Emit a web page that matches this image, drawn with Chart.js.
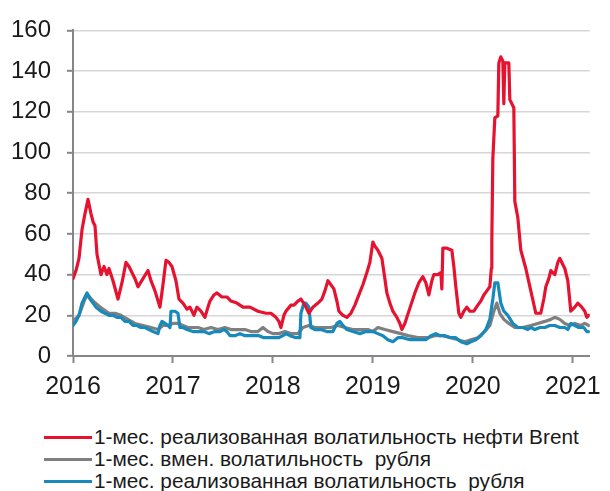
<!DOCTYPE html>
<html>
<head>
<meta charset="utf-8">
<script src="https://cdn.jsdelivr.net/npm/chart.js@4/dist/chart.umd.min.js"></script>
<style>
html,body{margin:0;padding:0;background:#fff;}
#wrap{position:relative;width:610px;height:491px;overflow:hidden;}
#c{position:absolute;left:0;top:0;}
.leg{position:absolute;left:44px;height:22px;line-height:22px;font-family:"Liberation Sans",Arial,sans-serif;font-size:20.8px;color:#1a1a1a;white-space:pre;display:flex;align-items:center;}
.leg .l{display:inline-block;width:48px;height:3px;margin-right:2px;}
</style>
</head>
<body>
<div id="wrap">
<canvas id="c" width="610" height="400" style="width:610px;height:400px"></canvas>
<div id="legend"></div>
</div>
<script>
// tick labels
const yearTicks = [2016, 2017, 2018, 2019, 2020, 2021];
const valueTicks = [0, 20, 40, 60, 80, 100, 120, 140, 160];

// series names
const seriesNames = [
  "1-мес. реализованная волатильность нефти Brent",
  "1-мес. вмен. волатильность  рубля",
  "1-мес. реализованная волатильность  рубля"
];

// 1-month realized volatility of Brent (time in years, value in %)
const brentT = [2016.00,2016.03,2016.06,2016.09,2016.12,2016.15,2016.18,2016.20,2016.22,2016.24,2016.28,2016.31,2016.34,2016.36,2016.40,2016.45,2016.49,2016.53,2016.56,2016.58,2016.62,2016.65,2016.70,2016.75,2016.78,2016.82,2016.87,2016.90,2016.93,2016.96,2016.99,2017.03,2017.06,2017.10,2017.14,2017.17,2017.21,2017.24,2017.28,2017.32,2017.35,2017.37,2017.41,2017.44,2017.49,2017.54,2017.58,2017.64,2017.70,2017.77,2017.85,2017.93,2017.98,2018.03,2018.06,2018.08,2018.11,2018.13,2018.18,2018.21,2018.25,2018.28,2018.32,2018.36,2018.40,2018.45,2018.49,2018.52,2018.55,2018.58,2018.61,2018.64,2018.66,2018.70,2018.74,2018.78,2018.82,2018.86,2018.90,2018.94,2018.97,2019.00,2019.02,2019.05,2019.09,2019.12,2019.14,2019.17,2019.20,2019.24,2019.27,2019.29,2019.32,2019.34,2019.38,2019.42,2019.46,2019.50,2019.53,2019.56,2019.59,2019.61,2019.65,2019.68,2019.69,2019.70,2019.74,2019.79,2019.81,2019.83,2019.86,2019.88,2019.91,2019.94,2019.97,2020.01,2020.05,2020.08,2020.11,2020.14,2020.17,2020.185,2020.19,2020.20,2020.22,2020.25,2020.26,2020.28,2020.30,2020.31,2020.32,2020.36,2020.37,2020.41,2020.42,2020.45,2020.48,2020.53,2020.58,2020.63,2020.68,2020.71,2020.73,2020.76,2020.78,2020.82,2020.85,2020.87,2020.90,2020.92,2020.95,2020.98,2021.02,2021.05,2021.09,2021.12,2021.14,2021.16];
const brentV = [38,42,48,62,70,77,70,66,64,50,40,44,40,43,37,28,36,46,44,42,38,34,38,42,37,32,24,35,47,46,44,37,28,26,23,24,20,24,22,19,24,27,30,31,29,29,27,26,24,24,22,21,21,19,17,14,20,22,25,25,27,28,25,21,24,26,28,32,37,35,33,27,22,20,19,21,25,30,35,41,46,56,54,52,48,38,31,26,22,19,16,13,16,19,25,31,36,39,36,30,37,40,40,41,33,53,53,52,44,34,21,19,22,24,22,22,25,27,30,32,34,43,57,97,117,118,144,147,145,124,144,144,126,122,76,68,52,43,32,21,21,28,34,38,42,40,46,48,45,43,37,22,24,26,24,22,19,20];

// 1-month implied volatility of the ruble
const rubImpT = [2016.00,2016.06,2016.12,2016.15,2016.20,2016.25,2016.30,2016.36,2016.42,2016.48,2016.55,2016.62,2016.70,2016.78,2016.85,2016.90,2016.95,2017.00,2017.05,2017.10,2017.15,2017.25,2017.31,2017.38,2017.45,2017.52,2017.58,2017.65,2017.72,2017.78,2017.85,2017.90,2017.95,2018.00,2018.06,2018.12,2018.18,2018.25,2018.30,2018.36,2018.42,2018.50,2018.58,2018.65,2018.72,2018.80,2018.88,2018.95,2019.00,2019.05,2019.12,2019.20,2019.28,2019.35,2019.45,2019.55,2019.62,2019.70,2019.78,2019.85,2019.92,2019.98,2020.05,2020.12,2020.17,2020.21,2020.24,2020.27,2020.31,2020.36,2020.42,2020.50,2020.58,2020.65,2020.72,2020.78,2020.82,2020.87,2020.92,2020.97,2021.02,2021.08,2021.12,2021.16];
const rubImpV = [17,20,28,30,27,25,23,21,21,20,18,16,15,14,13,15,15,16,16,15,14,14,13,14,13,14,13,13,13,12,12,14,12,11,11,12,11,11,14,15,14,14,14,15,14,13,13,13,12,14,13,12,11,10,9,9,10,10,9,8,7,8,9,12,15,22,26,21,18,16,14,14,15,16,17,18,19,18,16,15,16,15,16,15];

// 1-month realized volatility of the ruble
const rubRealT = [2016.00,2016.03,2016.06,2016.09,2016.12,2016.14,2016.17,2016.20,2016.23,2016.28,2016.32,2016.36,2016.40,2016.44,2016.48,2016.52,2016.56,2016.60,2016.64,2016.68,2016.72,2016.76,2016.80,2016.85,2016.87,2016.89,2016.92,2016.95,2016.97,2016.98,2017.02,2017.05,2017.07,2017.10,2017.14,2017.20,2017.26,2017.31,2017.36,2017.42,2017.47,2017.51,2017.54,2017.57,2017.62,2017.67,2017.72,2017.77,2017.82,2017.86,2017.91,2017.96,2018.01,2018.06,2018.10,2018.13,2018.17,2018.23,2018.27,2018.28,2018.31,2018.33,2018.36,2018.38,2018.42,2018.48,2018.54,2018.60,2018.64,2018.67,2018.70,2018.74,2018.80,2018.87,2018.93,2019.00,2019.05,2019.10,2019.15,2019.20,2019.25,2019.30,2019.37,2019.45,2019.53,2019.58,2019.63,2019.67,2019.72,2019.78,2019.83,2019.88,2019.94,2019.98,2020.03,2020.08,2020.13,2020.17,2020.20,2020.22,2020.25,2020.28,2020.31,2020.35,2020.40,2020.45,2020.50,2020.55,2020.58,2020.62,2020.67,2020.72,2020.77,2020.82,2020.87,2020.92,2020.95,2020.98,2021.02,2021.06,2021.11,2021.14,2021.16];
const rubRealV = [15,17,20,26,29,31,28,26,24,22,21,20,20,19,19,17,17,15,15,14,14,13,12,11,15,17,16,15,14,22,22,21,14,14,13,12,12,12,11,12,12,13,12,10,10,11,10,10,10,10,9,9,9,9,10,11,10,9,9,21,26,26,24,14,13,13,12,12,16,17,15,13,12,11,12,12,11,10,8,7,9,9,8,8,8,10,11,10,10,9,9,7,6,7,8,10,13,18,28,36,36,26,22,20,16,14,14,13,14,13,14,14,15,15,14,14,13,16,15,14,14,12,12];

const colors = ['#e5132f', '#7f7f7f', '#1889bb'];

function pts(t, v) { return t.map((x, i) => ({x: x, y: v[i]})); }

const datasets = [
  {label: seriesNames[0], data: pts(brentT, brentV), borderColor: colors[0], order: 0},
  {label: seriesNames[1], data: pts(rubImpT, rubImpV), borderColor: colors[1], order: 2},
  {label: seriesNames[2], data: pts(rubRealT, rubRealV), borderColor: colors[2], order: 1}
].map(d => Object.assign(d, {borderWidth: 3.2, pointRadius: 0, tension: 0, fill: false, borderJoinStyle: 'round', borderCapStyle: 'round'}));

const axisColor = '#868686';
const fontFam = '"Liberation Sans", Arial, sans-serif';

new Chart(document.getElementById('c'), {
  type: 'line',
  data: {datasets: datasets},
  options: {
    responsive: false,
    animation: false,
    layout: {padding: {top: 28, right: 12, left: 0, bottom: 0}},
    plugins: {legend: {display: false}, tooltip: {enabled: false}},
    scales: {
      x: {
        type: 'linear',
        min: 2016,
        max: 2021.17,
        afterBuildTicks: s => { s.ticks = yearTicks.map(v => ({value: v})); },
        afterFit: s => { s.height = 44; },
        ticks: {callback: v => String(v), font: {family: fontFam, size: 25}, color: '#1a1a1a', padding: 9, maxRotation: 0, autoSkip: false},
        grid: {drawOnChartArea: false, drawTicks: true, tickLength: 7, tickColor: axisColor, tickWidth: 2},
        border: {color: axisColor, width: 2}
      },
      y: {
        min: 0,
        max: 160,
        afterBuildTicks: s => { s.ticks = valueTicks.map(v => ({value: v})); },
        afterFit: s => { s.width = 73; },
        ticks: {font: {family: fontFam, size: 24}, color: '#1a1a1a', padding: 16},
        grid: {color: '#d6d6d6', lineWidth: 1.6, tickLength: 6, tickColor: axisColor, tickWidth: 2},
        border: {color: axisColor, width: 2}
      }
    }
  }
});

// legend
const legTop = [426, 448, 470];
const leg = document.getElementById('legend');
seriesNames.forEach((n, i) => {
  const d = document.createElement('div');
  d.className = 'leg';
  d.style.top = legTop[i] + 'px';
  const l = document.createElement('span');
  l.className = 'l';
  l.style.background = colors[i];
  d.appendChild(l);
  d.appendChild(document.createTextNode(n));
  leg.appendChild(d);
});
</script>
</body>
</html>
